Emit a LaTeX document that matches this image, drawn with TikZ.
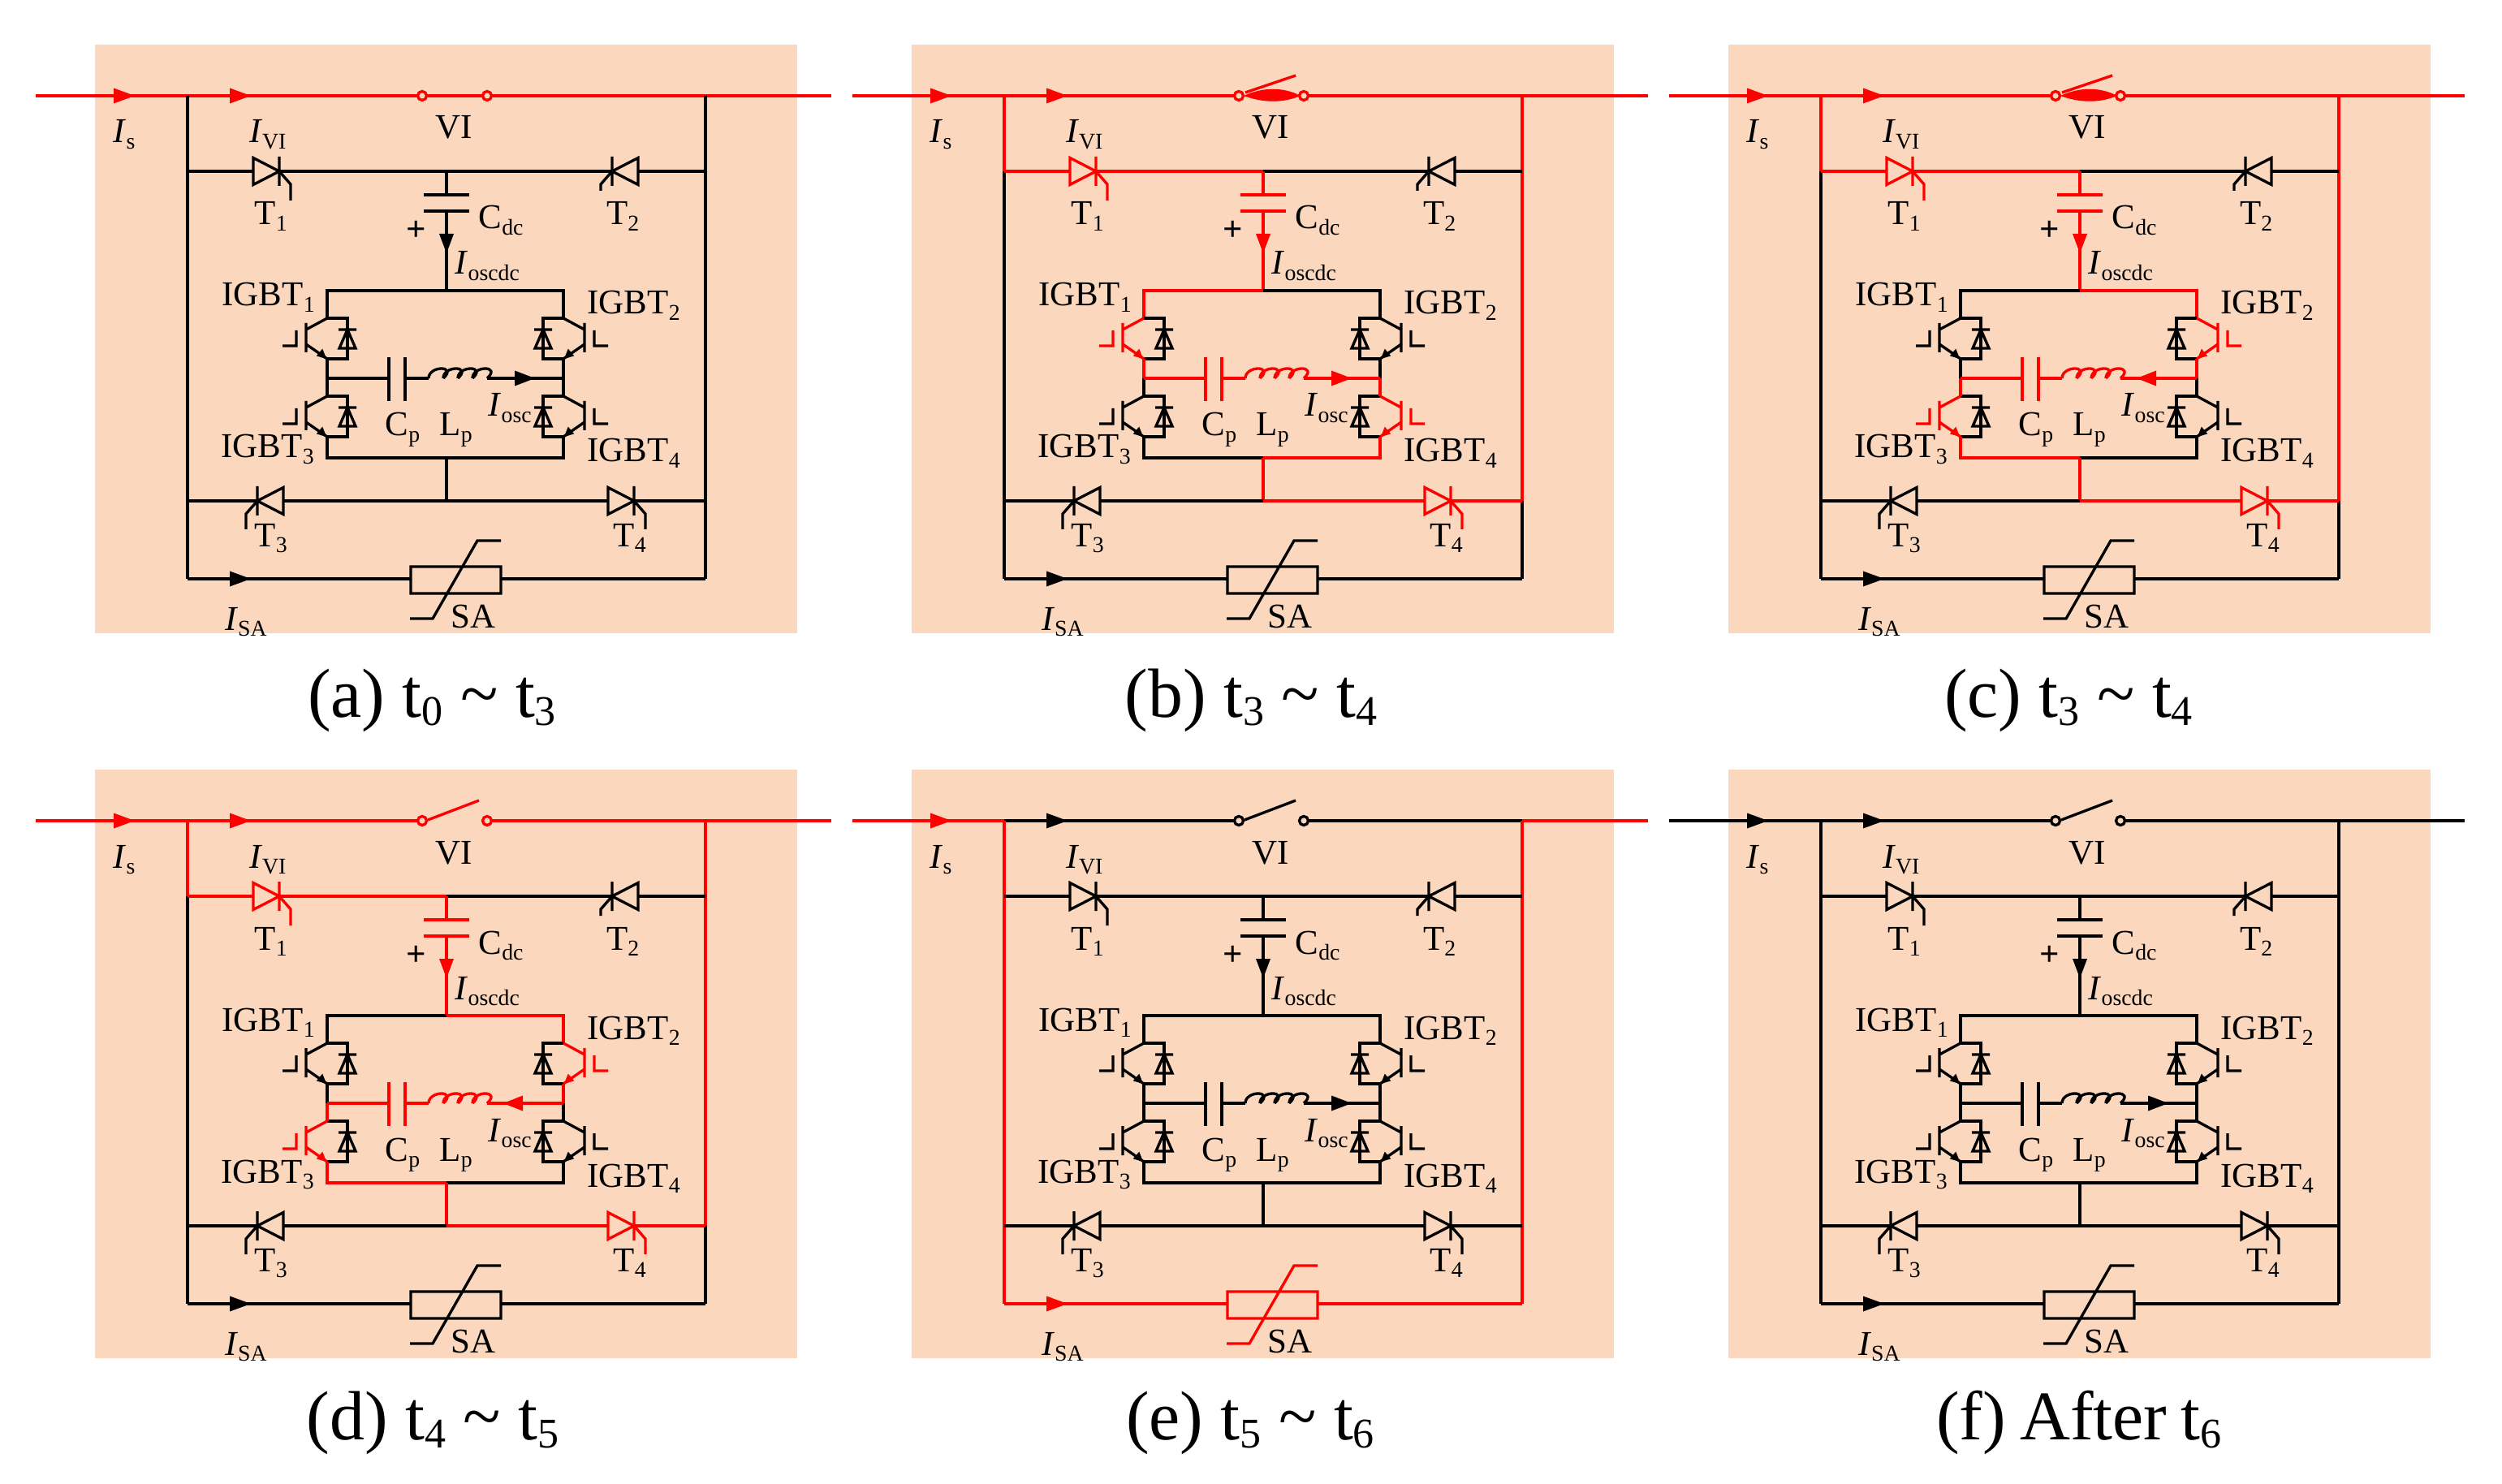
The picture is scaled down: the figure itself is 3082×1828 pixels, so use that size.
\documentclass[tikz,border=0pt]{standalone}
\usepackage{fontspec}
\setmainfont{Liberation Serif}
\definecolor{panelbg}{HTML}{FAD7BD}

\newcommand\sbs[1]{\raisebox{-.17em}{\fontsize{7.9}{9}\selectfont #1}}
\newcommand\capsb[1]{\raisebox{-.125em}{\fontsize{14.8}{17}\selectfont #1}}

\tikzset{
  blackseg/.style={#1/.style={color=black}},
  redseg/.style={#1/.style={color=red}},
  blackseg/.list={wIn,wMid,wVI,wOut,wEx,wLu,wLm,wLd,wRu,wRm,wRd,wTa,wT1,wCdc,wBl,wBr,
    tA,tB,tC,tD,wMa,wMb,wMc,wMd,wPar,wEl,wEr,wCen,wT4,wSA},
  rowln/.style={line width=1.2pt},
  lab/.style={inner sep=0pt,anchor=base west,font=\fontsize{12.2}{14}\selectfont},
  capt/.style={inner sep=0pt,anchor=base,font=\fontsize{24.4}{29}\selectfont}
}

\newcommand\thyr[5]{
  \begin{scope}[shift={(#1,#2)},xscale=#3,#5]
    \draw (-32,-16.5) -- (0,0) -- (-32,16.5) -- cycle (0,-18) -- (0,18) (0,0) -- (14,16) -- (14,#4);
  \end{scope}
}

\newcommand\igbt[4]{
  \begin{scope}[shift={(#1,#2)},xscale=#3]
    \draw (0,0) -- (25,0) -- (25,50) -- (0,50);
    \draw (15,37) -- (25,14) -- (35,37) -- cycle (14,14) -- (36,14);
    \draw[#4] (0,0) -- (-26,14) (-26,6) -- (-26,42) (-26,32) -- (0,50) (-38,15) -- (-38,34) -- (-55,34);
    \filldraw[#4,line width=.4pt] (-2,49) -- (-12,46) -- (-6,39) -- cycle;
  \end{scope}
}

\newcommand\circuit[2]{
  \fill[panelbg] (117,55) rectangle (982,780);

  \coordinate (lt) at (231,118);
  \coordinate (rt) at (869,118);
  \coordinate (lu) at (231,211);
  \coordinate (ru) at (869,211);
  \coordinate (ll) at (231,617);
  \coordinate (rl) at (869,617);
  \coordinate (lb) at (231,713);
  \coordinate (rb) at (869,713);
  \coordinate (cu) at (550,211);
  \coordinate (cl) at (550,617);
  \coordinate (bt) at (550,358);
  \coordinate (bb) at (550,564);
  \coordinate (tl) at (403,358);
  \coordinate (tr) at (694,358);
  \coordinate (bl) at (403,564);
  \coordinate (br) at (694,564);
  \coordinate (ml) at (403,466);
  \coordinate (mr) at (694,466);

  \draw[wIn] (44,118) -- (166,118);
  \draw[wIn,rowln] (166,118) -- (lt);
  \fill[wIn] (140,108.5) -- (166,118) -- (140,127.5) -- cycle;
  \draw[wMid,rowln] (lt) -- (269,118);
  \draw[wMid] (269,118) -- (520,118);
  \fill[wMid] (283,108.5) -- (309,118) -- (283,127.5) -- cycle;
  \draw[wOut] (600,118) -- (rt);
  \draw[wEx] (rt) -- (1024,118);
  \ifcase#1
    \draw[wVI] (520,118) -- (600,118);
  \or
    \draw[wVI] (527,117) -- (590,93);
  \or
    \draw[wVI] (528,114) -- (590,93);
    \fill[wVI] (526,118) .. controls (550,107) and (575,107) .. (596,118) .. controls (575,127) and (550,127) .. (526,118);
  \fi
  \filldraw[wVI,fill=panelbg] (520,118) circle (5.5) (600,118) circle (5.5);

  \draw[wLu] (lt) -- (lu);
  \draw[wLm] (lu) -- (ll);
  \draw[wLd] (ll) -- (lb);
  \draw[wRu] (rt) -- (ru);
  \draw[wRm] (ru) -- (rl);
  \draw[wRd] (rl) -- (rb);

  \draw[wTa,rowln] (lu) -- (312,211) (344,211) -- (cu);
  \thyr{344}{211}{1}{36}{wT1}
  \draw[rowln] (cu) -- (754,211) (786,211) -- (ru);
  \thyr{754}{211}{-1}{24}{color=black}

  \draw[wCdc] (cu) -- (550,240) (522,240) -- (578,240);
  \draw[wCdc,rowln] (522,260) -- (578,260);
  \draw[wCdc] (550,260) -- (bt);
  \fill[wCdc] (541,288) -- (559,288) -- (550,312) -- cycle;

  \draw[wBl] (bt) -- (tl) -- (403,392);
  \draw[wBr] (bt) -- (tr) -- (694,392);
  \igbt{403}{392}{1}{tA}
  \igbt{694}{392}{-1}{tB}
  \igbt{403}{488}{1}{tC}
  \igbt{694}{488}{-1}{tD}
  \draw[wMa] (403,442) -- (ml);
  \draw[wMb] (694,442) -- (mr);
  \draw[wMc] (ml) -- (403,488);
  \draw[wMd] (mr) -- (694,488);

  \draw[wPar] (ml) -- (479,466) (479,440) -- (479,494) (499,440) -- (499,494) (499,466) -- (528,466);
  \foreach \k in {0,1,2,3}
    \draw[wPar] ({528+18*\k},466) .. controls +(0,-16) and +(18,-16) .. +(18,0);
  \draw[wPar] (600,466) -- (mr);
  \ifnum#2>0
    \fill[wPar] (634,456.5) -- (659,466) -- (634,475.5) -- cycle;
  \else
    \fill[wPar] (644,456.5) -- (620,466) -- (644,475.5) -- cycle;
  \fi

  \draw[wEl] (403,538) -- (bl) -- (bb);
  \draw[wEr] (694,538) -- (br) -- (bb);
  \draw[wCen] (bb) -- (cl);

  \draw[rowln] (ll) -- (317,617) (349,617) -- (cl);
  \thyr{317}{617}{-1}{35}{color=black}
  \draw[wT4,rowln] (cl) -- (749,617) (781,617) -- (830,617);
  \draw[wT4] (830,617) -- (rl);
  \thyr{781}{617}{1}{35}{wT4}

  \draw[wSA,rowln] (lb) -- (506,713) (617,713) -- (rb);
  \fill[wSA] (283,703.5) -- (309,713) -- (283,722.5) -- cycle;
  \draw[wSA] (506,698) rectangle (617,731) (505,762) -- (533,762) -- (588,666) -- (617,666);

  \node[lab] (is) at (138,176) {\textit{I}\sbs{s}};
  \node[lab] (ivi) at (305.5,176) {\textit{I}\sbs{VI}};
  \node[lab] (vi) at (535,171) {VI};
  \node[lab] (t1) at (312,277) {T\sbs{1}};
  \node[lab] (t2) at (745.5,277) {T\sbs{2}};
  \node[lab] (cdc) at (588,282) {C\sbs{dc}};
  \node[lab,anchor=center] (plus) at (513,284) {\textbf{+}};
  \node[lab] (iod) at (559,338) {\textit{I}\sbs{oscdc}};
  \node[lab] (g1) at (272,377) {IGBT\sbs{1}};
  \node[lab] (g2) at (722,387) {IGBT\sbs{2}};
  \node[lab] (g3) at (271,564) {IGBT\sbs{3}};
  \node[lab] (g4) at (722,569) {IGBT\sbs{4}};
  \node[lab] (cp) at (473,537) {C\sbs{p}};
  \node[lab] (lp) at (540,537) {L\sbs{p}};
  \node[lab] (io) at (600,513) {\textit{I}\sbs{osc}};
  \node[lab] (t3) at (312,673) {T\sbs{3}};
  \node[lab] (t4) at (754,673) {T\sbs{4}};
  \node[lab] (isa) at (275.5,776) {\textit{I}\sbs{SA}};
  \node[lab] (sa) at (554,773) {SA};
}

\begin{document}
\begin{tikzpicture}[x=.01cm,y=-.01cm,line width=.95pt]
\useasboundingbox (0,0) rectangle (3082,1828);

\begin{scope}[shift={(0,0)},name prefix=a-,redseg/.list={wIn,wMid,wVI,wOut,wEx}]
  \circuit{0}{1}
  \node[capt] (cap) at (532,883) {(a) t\capsb{0} \textasciitilde{} t\capsb{3}};
\end{scope}

\begin{scope}[shift={(1006,0)},name prefix=b-,redseg/.list={wIn,wMid,wVI,wOut,wEx,wLu,wRu,wRm,wTa,wT1,wCdc,wBl,tA,wMa,wPar,wMd,tD,wEr,wCen,wT4}]
  \circuit{2}{1}
  \node[capt] (cap) at (535,883) {(b) t\capsb{3} \textasciitilde{} t\capsb{4}};
\end{scope}

\begin{scope}[shift={(2012,0)},name prefix=c-,redseg/.list={wIn,wMid,wVI,wOut,wEx,wLu,wRu,wRm,wTa,wT1,wCdc,wBr,tB,wMb,wPar,wMc,tC,wEl,wCen,wT4}]
  \circuit{2}{0}
  \node[capt] (cap) at (536,883) {(c) t\capsb{3} \textasciitilde{} t\capsb{4}};
\end{scope}

\begin{scope}[shift={(0,893)},name prefix=d-,redseg/.list={wIn,wMid,wVI,wOut,wEx,wLu,wRu,wRm,wTa,wT1,wCdc,wBr,tB,wMb,wPar,wMc,tC,wEl,wCen,wT4}]
  \circuit{1}{0}
  \node[capt] (cap) at (533,880) {(d) t\capsb{4} \textasciitilde{} t\capsb{5}};
\end{scope}

\begin{scope}[shift={(1006,893)},name prefix=e-,redseg/.list={wIn,wEx,wLu,wLm,wLd,wRu,wRm,wRd,wSA}]
  \circuit{1}{1}
  \node[capt] (cap) at (534,880) {(e) t\capsb{5} \textasciitilde{} t\capsb{6}};
\end{scope}

\begin{scope}[shift={(2012,893)},name prefix=f-]
  \circuit{1}{1}
  \node[capt] (cap) at (549,880) {(f)\hspace{-.04cm} After\hspace{-.04cm} t\capsb{6}};
\end{scope}

\end{tikzpicture}
\end{document}
